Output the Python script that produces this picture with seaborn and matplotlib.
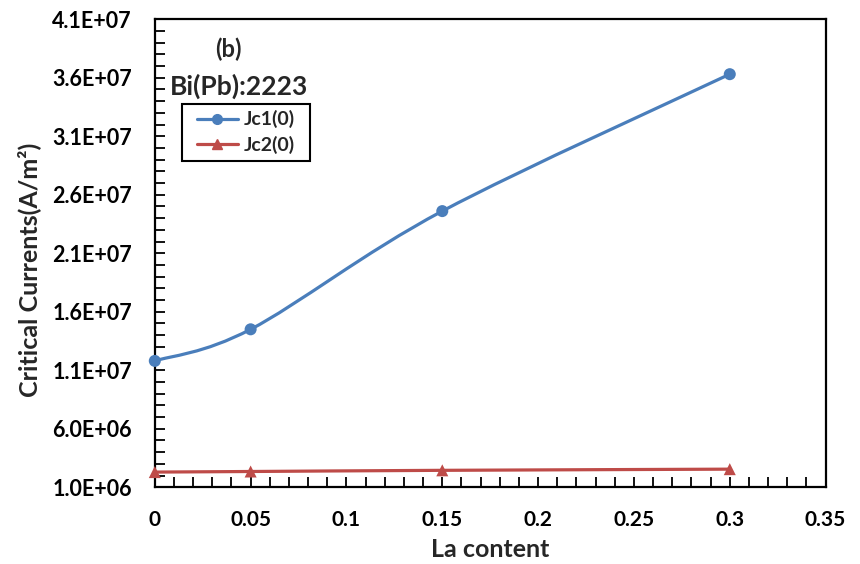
import numpy as np
import pandas as pd
import seaborn as sns
import matplotlib
matplotlib.use("Agg")
import matplotlib.pyplot as plt
from matplotlib.path import Path
from matplotlib.patches import PathPatch, Rectangle
from matplotlib.ticker import MultipleLocator, FixedLocator, FuncFormatter
from matplotlib.lines import Line2D

la_content = [0, 0.05, 0.15, 0.3]
jc1 = [1.18e7, 1.45e7, 2.46e7, 3.63e7]
jc2 = [2.3e6, 2.35e6, 2.45e6, 2.55e6]
series_names = ["Jc1(0)", "Jc2(0)"]
y_ticks = [1.0e6, 6.0e6, 1.1e7, 1.6e7, 2.1e7, 2.6e7, 3.1e7, 3.6e7, 4.1e7]

sns.set_theme(style="white")
plt.rcParams['font.family'] = ['Lato', 'DejaVu Sans']
plt.rcParams['font.weight'] = 'bold'

blue = "#4A7EBB"
red = "#BE4B48"

fig = plt.figure(figsize=(8.6, 5.64), dpi=100)
ax = fig.add_axes([0.180, 0.136, 0.780, 0.830])

df = pd.DataFrame({"x": la_content * 2, "y": jc1 + jc2,
                   "s": [series_names[0]] * 4 + [series_names[1]] * 4})


def smooth_path(xs, ys):
    pts = np.column_stack([xs, ys])
    n = len(pts)
    verts = [pts[0]]
    codes = [Path.MOVETO]
    for i in range(n - 1):
        p0 = pts[i - 1] if i > 0 else pts[i]
        p1 = pts[i]
        p2 = pts[i + 1]
        p3 = pts[i + 2] if i + 2 < n else pts[i + 1]
        c1 = p1 + (p2 - p0) / 6.0
        c2 = p2 - (p3 - p1) / 6.0
        verts += [c1, c2, p2]
        codes += [Path.CURVE4] * 3
    return Path(verts, codes)


ax.add_patch(PathPatch(smooth_path(la_content, jc1), facecolor="none",
                       edgecolor=blue, lw=2.3, zorder=2))
ax.add_patch(PathPatch(smooth_path(la_content, jc2), facecolor="none",
                       edgecolor=red, lw=2.3, zorder=2))

sns.scatterplot(data=df, x="x", y="y", hue="s", style="s",
                palette=[blue, red], markers=["o", "^"], s=75,
                edgecolor="none", ax=ax, legend=False, zorder=3, clip_on=False)

ax.set_xlim(0, 0.35)
ax.set_ylim(1e6, 4.1e7)
ax.xaxis.set_major_locator(MultipleLocator(0.05))
ax.xaxis.set_minor_locator(MultipleLocator(0.01))
ax.yaxis.set_major_locator(FixedLocator(y_ticks))
ax.yaxis.set_minor_locator(MultipleLocator(1e6))


def xfmt(v, p):
    return f"{v:.2f}".rstrip("0").rstrip(".")


def yfmt(v, p):
    mant, ex = f"{v:.1E}".split("E")
    return f"{mant}E{ex[0]}{int(ex[1:]):02d}"


ax.xaxis.set_major_formatter(FuncFormatter(xfmt))
ax.yaxis.set_major_formatter(FuncFormatter(yfmt))

ax.tick_params(axis="both", which="both", direction="in", color="black",
               labelcolor="black", top=False, right=False,
               bottom=True, left=True)
ax.tick_params(axis="both", which="both", length=7, width=1.3)
ax.tick_params(axis="x", which="major", pad=16, labelsize=15)
ax.tick_params(axis="y", which="major", pad=16.5, labelsize=15.5)
for lab in ax.get_xticklabels() + ax.get_yticklabels():
    lab.set_fontweight("bold")

for sp in ax.spines.values():
    sp.set_visible(True)
    sp.set_color("black")
    sp.set_linewidth(1.6)

ax.set_xlabel("La content", fontsize=18, fontweight="bold", labelpad=6)
ax.set_ylabel("Critical Currents(A/m²)", fontsize=18, fontweight="bold")
ax.yaxis.set_label_coords(-0.170, 0.464)

ax.text(0.109, 0.936, "(b)", transform=ax.transAxes, fontsize=17,
        fontweight="bold", ha="center", va="center")
ax.text(0.125, 0.857, "Bi(Pb):2223", transform=ax.transAxes, fontsize=19,
        fontweight="bold", ha="center", va="center")

# legend frame and entries
ax.add_patch(Rectangle((0.0402, 0.698), 0.1905, 0.121, transform=ax.transAxes,
                       facecolor="white", edgecolor="black", lw=1.5, zorder=4))
handles = [Line2D([], [], color=blue, lw=2.3, marker="o", markersize=7),
           Line2D([], [], color=red, lw=2.3, marker="^", markersize=7)]
leg = ax.legend(handles, series_names, loc="center",
                bbox_to_anchor=(0.1354, 0.7585), frameon=False,
                handlelength=2.1, handletextpad=0.3,
                borderpad=0.0, labelspacing=0.4, borderaxespad=0,
                prop={"weight": "bold", "size": 14})
leg.set_zorder(5)

fig.savefig("out.png", dpi=100)
